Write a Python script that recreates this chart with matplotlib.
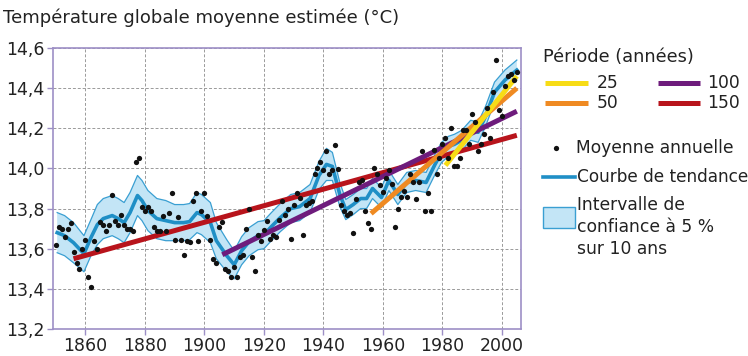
import numpy as np
import matplotlib
matplotlib.use("Agg")
import matplotlib.pyplot as plt
from matplotlib.lines import Line2D
from matplotlib.patches import Rectangle

# ---------------- data ----------------
years = list(range(1850, 2006))
annual_mean = [
    13.62, 13.71, 13.70, 13.66, 13.70, 13.73, 13.585, 13.53, 13.50, 13.60,   # 1850s
    13.645, 13.46, 13.41, 13.64, 13.60, 13.735, 13.72, 13.69, 13.72, 13.87,  # 1860s
    13.74, 13.72, 13.77, 13.72, 13.70, 13.70, 13.69, 14.03, 14.05, 13.81,    # 1870s
    13.79, 13.81, 13.79, 13.71, 13.69, 13.69, 13.765, 13.69, 13.78, 13.877,  # 1880s
    13.645, 13.76, 13.645, 13.57, 13.64, 13.635, 13.84, 13.877, 13.64, 13.79,  # 1890s
    13.88, 13.765, 13.645, 13.55, 13.53, 13.71, 13.735, 13.50, 13.49, 13.46,   # 1900s
    13.51, 13.46, 13.56, 13.57, 13.70, 13.80, 13.56, 13.49, 13.67, 13.64,      # 1910s
    13.695, 13.74, 13.65, 13.67, 13.66, 13.745, 13.84, 13.77, 13.80, 13.65,    # 1920s
    13.82, 13.88, 13.855, 13.67, 13.82, 13.83, 13.84, 13.97, 14.00, 14.03,     # 1930s
    13.99, 14.085, 13.97, 13.99, 14.115, 13.995, 13.82, 13.79, 13.77, 13.78,   # 1940s
    13.68, 13.85, 13.93, 13.94, 13.79, 13.73, 13.70, 14.00, 13.97, 13.915,     # 1950s
    13.885, 13.95, 13.99, 13.92, 13.71, 13.80, 13.86, 13.89, 13.86, 13.97,     # 1960s
    13.93, 13.85, 13.93, 14.085, 13.79, 13.88, 13.79, 14.09, 13.97, 14.05,     # 1970s
    14.12, 14.15, 14.05, 14.20, 14.01, 14.01, 14.05, 14.19, 14.19, 14.12,      # 1980s
    14.27, 14.23, 14.085, 14.12, 14.17, 14.30, 14.15, 14.38, 14.54, 14.29,     # 1990s
    14.26, 14.41, 14.46, 14.47, 14.44, 14.48,                                  # 2000s
]

trend_years = [1850.5, 1853, 1856, 1859.5, 1862, 1864, 1866, 1869, 1871, 1873,
               1875, 1877.5, 1879, 1881, 1884, 1887, 1890, 1893, 1895, 1897.5,
               1899, 1902, 1904, 1907.5, 1910, 1912.5, 1915, 1918, 1920, 1922.5,
               1925.5, 1929, 1932, 1935.5, 1938.5, 1941, 1943, 1945.5, 1947.5, 1950,
               1952.5, 1954.5, 1956.5, 1959.5, 1962, 1965, 1968, 1971, 1974.5, 1977.5,
               1979.7, 1982, 1984, 1986.5, 1989.5, 1992, 1994.5, 1997.5, 2001, 2005]
trend_curve = [13.68, 13.665, 13.63, 13.575, 13.66, 13.72, 13.75, 13.765, 13.75, 13.73,
               13.78, 13.865, 13.84, 13.79, 13.75, 13.74, 13.73, 13.73, 13.735, 13.78,
               13.77, 13.73, 13.64, 13.565, 13.52, 13.59, 13.635, 13.665, 13.67, 13.71,
               13.755, 13.80, 13.81, 13.85, 13.965, 14.02, 14.01, 13.87, 13.795, 13.82,
               13.85, 13.85, 13.90, 13.855, 13.94, 13.87, 13.93, 13.94, 13.93, 14.02,
               14.08, 14.11, 14.12, 14.14, 14.19, 14.18, 14.26, 14.38, 14.44, 14.49]
band_halfwidth = [0.10, 0.10, 0.10, 0.09, 0.09, 0.10, 0.10, 0.10, 0.10, 0.10,
                  0.10, 0.10, 0.10, 0.10, 0.10, 0.10, 0.09, 0.09, 0.09, 0.10,
                  0.10, 0.10, 0.09, 0.08, 0.07, 0.07, 0.07, 0.07, 0.07, 0.07,
                  0.07, 0.07, 0.07, 0.07, 0.07, 0.08, 0.07, 0.06, 0.05, 0.05,
                  0.05, 0.05, 0.05, 0.05, 0.05, 0.05, 0.05, 0.05, 0.05, 0.05,
                  0.05, 0.05, 0.05, 0.05, 0.05, 0.05, 0.05, 0.05, 0.05, 0.05]

period_labels = ["25", "50", "100", "150"]
period_start_year = [1981, 1956, 1906, 1856]
period_end_year = [2005, 2005, 2005, 2005]
period_start_temp = [14.015, 13.775, 13.57, 13.55]
period_end_temp = [14.46, 14.40, 14.285, 14.165]
period_colors = ["#f7dc16", "#ef8a22", "#6e1c7c", "#b8141c"]

title = "Température globale moyenne estimée (°C)"

# ---------------- figure ----------------
W, H = 748, 356
fig = plt.figure(figsize=(W / 100, H / 100), dpi=100)
fig.patch.set_facecolor("white")
plt.rcParams["font.family"] = ["DejaVu Sans"]
txt_color = "#222222"

def fx(px):
    return px / W

def fy(py):
    return 1 - py / H

ax = fig.add_axes([fx(53), fy(329), (521 - 53) / W, (329 - 48) / H])
ax.set_xlim(1849.1, 2006.4)
ax.set_ylim(13.2, 14.6)

band_fill = "#c3e5f6"
band_edge = "#3a9fd2"
curve_col = "#1f8fc6"

tc = np.array(trend_curve)
hw = np.array(band_halfwidth)
ax.fill_between(trend_years, tc - hw, tc + hw, facecolor=band_fill,
                edgecolor="none", zorder=2)
ax.plot(trend_years, tc + hw, color=band_edge, lw=0.9, zorder=2.5)
ax.plot(trend_years, tc - hw, color=band_edge, lw=0.9, zorder=2.5)
ax.plot(trend_years, tc, color=curve_col, lw=2.6, zorder=3,
        solid_joinstyle="round")

for i in reversed(range(len(period_labels))):
    ax.plot([period_start_year[i], period_end_year[i]],
            [period_start_temp[i], period_end_temp[i]],
            color=period_colors[i], lw=3.6, solid_capstyle="butt", zorder=4 + (3 - i) * 0.1)

ax.plot(years, annual_mean, "o", color="#111111", ms=3.8, mec="none", zorder=6)

# axes style
frame_col = "#9d8fc6"
for s in ax.spines.values():
    s.set_color(frame_col)
    s.set_linewidth(1.2)
ax.set_xticks(range(1860, 2001, 20))
yt = np.round(np.arange(13.2, 14.61, 0.2), 1)
ax.set_yticks(yt)
ax.set_yticklabels([f"{v:.1f}".replace(".", ",") for v in yt])
ax.tick_params(axis="both", colors=frame_col, labelcolor=txt_color,
               labelsize=12.5, length=4, width=1, direction="out", pad=2)
ax.grid(True, linestyle=(0, (3, 2)), color="#9a9a9a", linewidth=0.7, zorder=0)
ax.set_axisbelow(True)

fig.text(fx(3), fy(18), title, fontsize=13, color=txt_color, va="center", ha="left")

# ---------------- legend ----------------
fs = 12.3
fig.text(fx(543), fy(57), "Période (années)", fontsize=12.8, color=txt_color, va="center")
leg_pos = [(545, 588, 83, 597), (545, 588, 103, 597), (658, 700, 83, 707), (658, 700, 103, 707)]
for i, (x0, x1, yy, xt) in enumerate(leg_pos):
    fig.add_artist(Line2D([fx(x0), fx(x1)], [fy(yy), fy(yy)], color=period_colors[i],
                          lw=3.6, transform=fig.transFigure, solid_capstyle="butt"))
    fig.text(fx(xt), fy(yy), period_labels[i], fontsize=fs, color=txt_color, va="center")

fig.add_artist(Line2D([fx(556)], [fy(148)], marker="o", ms=3.8, color="#111111",
                      mec="none", transform=fig.transFigure))
fig.text(fx(576), fy(148), "Moyenne annuelle", fontsize=fs, color=txt_color, va="center")

fig.add_artist(Line2D([fx(543), fx(575)], [fy(177), fy(177)], color=curve_col, lw=2.6,
                      transform=fig.transFigure))
fig.text(fx(577), fy(177), "Courbe de tendance", fontsize=fs * 0.99, color=txt_color, va="center")

fig.add_artist(Rectangle((fx(543), fy(228)), 32 / W, 21 / H, facecolor=band_fill,
                         edgecolor=band_edge, lw=1.0, transform=fig.transFigure))
for t, yy in [("Intervalle de", 205), ("confiance à 5 %", 227), ("sur 10 ans", 249)]:
    fig.text(fx(577), fy(yy), t, fontsize=fs, color=txt_color, va="center")

fig.savefig("out.png", dpi=100, facecolor="white")
